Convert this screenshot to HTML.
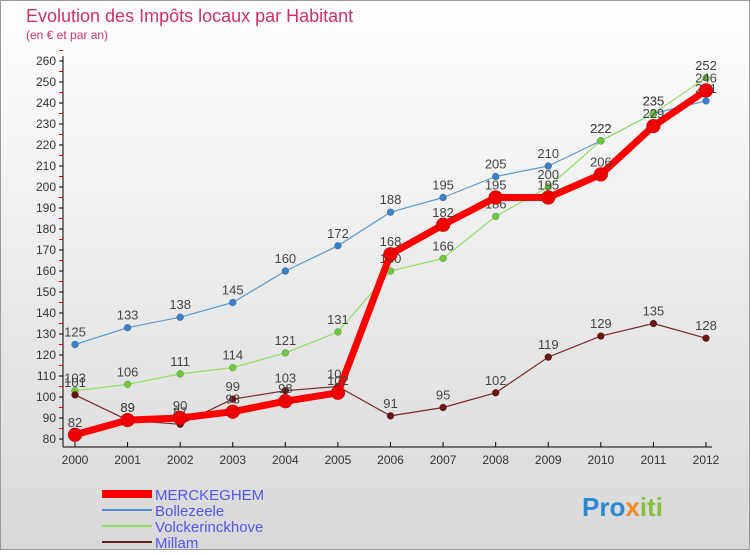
<!DOCTYPE html>
<html><head><meta charset="utf-8"><style>
body{margin:0;width:750px;height:550px;overflow:hidden;font-family:"Liberation Sans",sans-serif}
</style></head><body>
<svg width="750" height="550" xmlns="http://www.w3.org/2000/svg">
<defs><linearGradient id="bg" x1="0" y1="0" x2="0" y2="1"><stop offset="0" stop-color="#ffffff"/><stop offset="1" stop-color="#d8d8d8"/></linearGradient></defs>
<rect x="0.5" y="0.5" width="749" height="549" fill="url(#bg)" stroke="#999"/>
<text x="26" y="22" font-size="18" fill="#d0306a">Evolution des Impôts locaux par Habitant</text>
<text x="26" y="39" font-size="12" fill="#d0306a">(en € et par an)</text>
<g id="axes"></g><g id="series"></g>
<g>
<line x1="102" y1="494" x2="152" y2="494" stroke="#ff0000" stroke-width="8"/>
<text x="155" y="500" font-size="15" fill="#5555ee">MERCKEGHEM</text>
<line x1="102" y1="510" x2="152" y2="510" stroke="#4a90d0" stroke-width="2"/>
<text x="155" y="516" font-size="15" fill="#5555ee">Bollezeele</text>
<line x1="102" y1="526" x2="152" y2="526" stroke="#90e060" stroke-width="2"/>
<text x="155" y="532" font-size="15" fill="#5555ee">Volckerinckhove</text>
<line x1="102" y1="542" x2="152" y2="542" stroke="#6a1a1a" stroke-width="2"/>
<text x="155" y="548" font-size="15" fill="#5555ee">Millam</text>
</g>
<text x="582" y="516" font-size="26" font-weight="bold" fill="#2a8ad0">Pro<tspan fill="#f08a20">x</tspan><tspan fill="#80c040">iti</tspan></text>
</svg>
<script>
const years=[2000,2001,2002,2003,2004,2005,2006,2007,2008,2009,2010,2011,2012];
const yTicks=[80,90,100,110,120,130,140,150,160,170,180,190,200,210,220,230,240,250,260];
const merckeghem=[82,89,90,93,98,102,168,182,195,195,206,229,246];
const bollezeele=[125,133,138,145,160,172,188,195,205,210,222,235,241];
const volckerinckhove=[103,106,111,114,121,131,160,166,186,200,222,235,252];
const millam=[101,89,87,99,103,105,91,95,102,119,129,135,128];
const NS="http://www.w3.org/2000/svg";
const x=i=>75+i*(706-75)/12;
const y=v=>439-(v-80)*(439-61)/180;
function mk(tag,attrs,parent){const e=document.createElementNS(NS,tag);for(const k in attrs)e.setAttribute(k,attrs[k]);parent.appendChild(e);return e;}
const ax=document.getElementById('axes');
let e=mk('line',{x1:63,y1:56,x2:63,y2:447,stroke:'#000'},ax);


e=mk('line',{x1:63,y1:447,x2:712,y2:447,stroke:'#000'},ax);


yTicks.forEach(v=>{
 mk('line',{x1:59,y1:y(v),x2:63,y2:y(v),stroke:'#000'},ax);
 mk('line',{x1:59,y1:y(v+5),x2:63,y2:y(v+5),stroke:'#e00'},ax);
 const t=mk('text',{x:56,y:y(v)+4,'font-size':12,'text-anchor':'end',fill:'#333'},ax);
 t.textContent=v;
 
 
});
years.forEach((yr,i)=>{
 mk('line',{x1:x(i),y1:442,x2:x(i),y2:447,stroke:'#000'},ax);
 const t=mk('text',{x:x(i),y:464,'font-size':12,'text-anchor':'middle',fill:'#333'},ax);
 t.textContent=yr;
 
 
});
const sg=document.getElementById('series');
function draw(name,data,color,w,r,dot){
 const g=mk('g',{},sg);
 
 
 const p=mk('polyline',{points:data.map((v,i)=>x(i)+','+y(v)).join(' '),fill:'none',stroke:color,'stroke-width':w,'stroke-linejoin':'round'},g);
 
 
 data.forEach((v,i)=>{
  const c=mk('circle',{cx:x(i),cy:y(v),r:r,fill:dot,stroke:'rgba(0,0,0,0.3)','stroke-width':0.5},g);
  
  
  const t=mk('text',{x:x(i),y:y(v)-8,'font-size':13,'text-anchor':'middle',fill:'#444'},g);
  t.textContent=v;
  
  
 });
}
draw('bollezeele',bollezeele,'#5a9ad0',1.2,3.5,'#3a80c8');
draw('volckerinckhove',volckerinckhove,'#90e060',1.2,3.5,'#70c840');
draw('millam',millam,'#7a2a2a',1.2,3.5,'#6a1414');
draw('merckeghem',merckeghem,'#ff0000',7,7,'#ee0000');
</script>
</body></html>
